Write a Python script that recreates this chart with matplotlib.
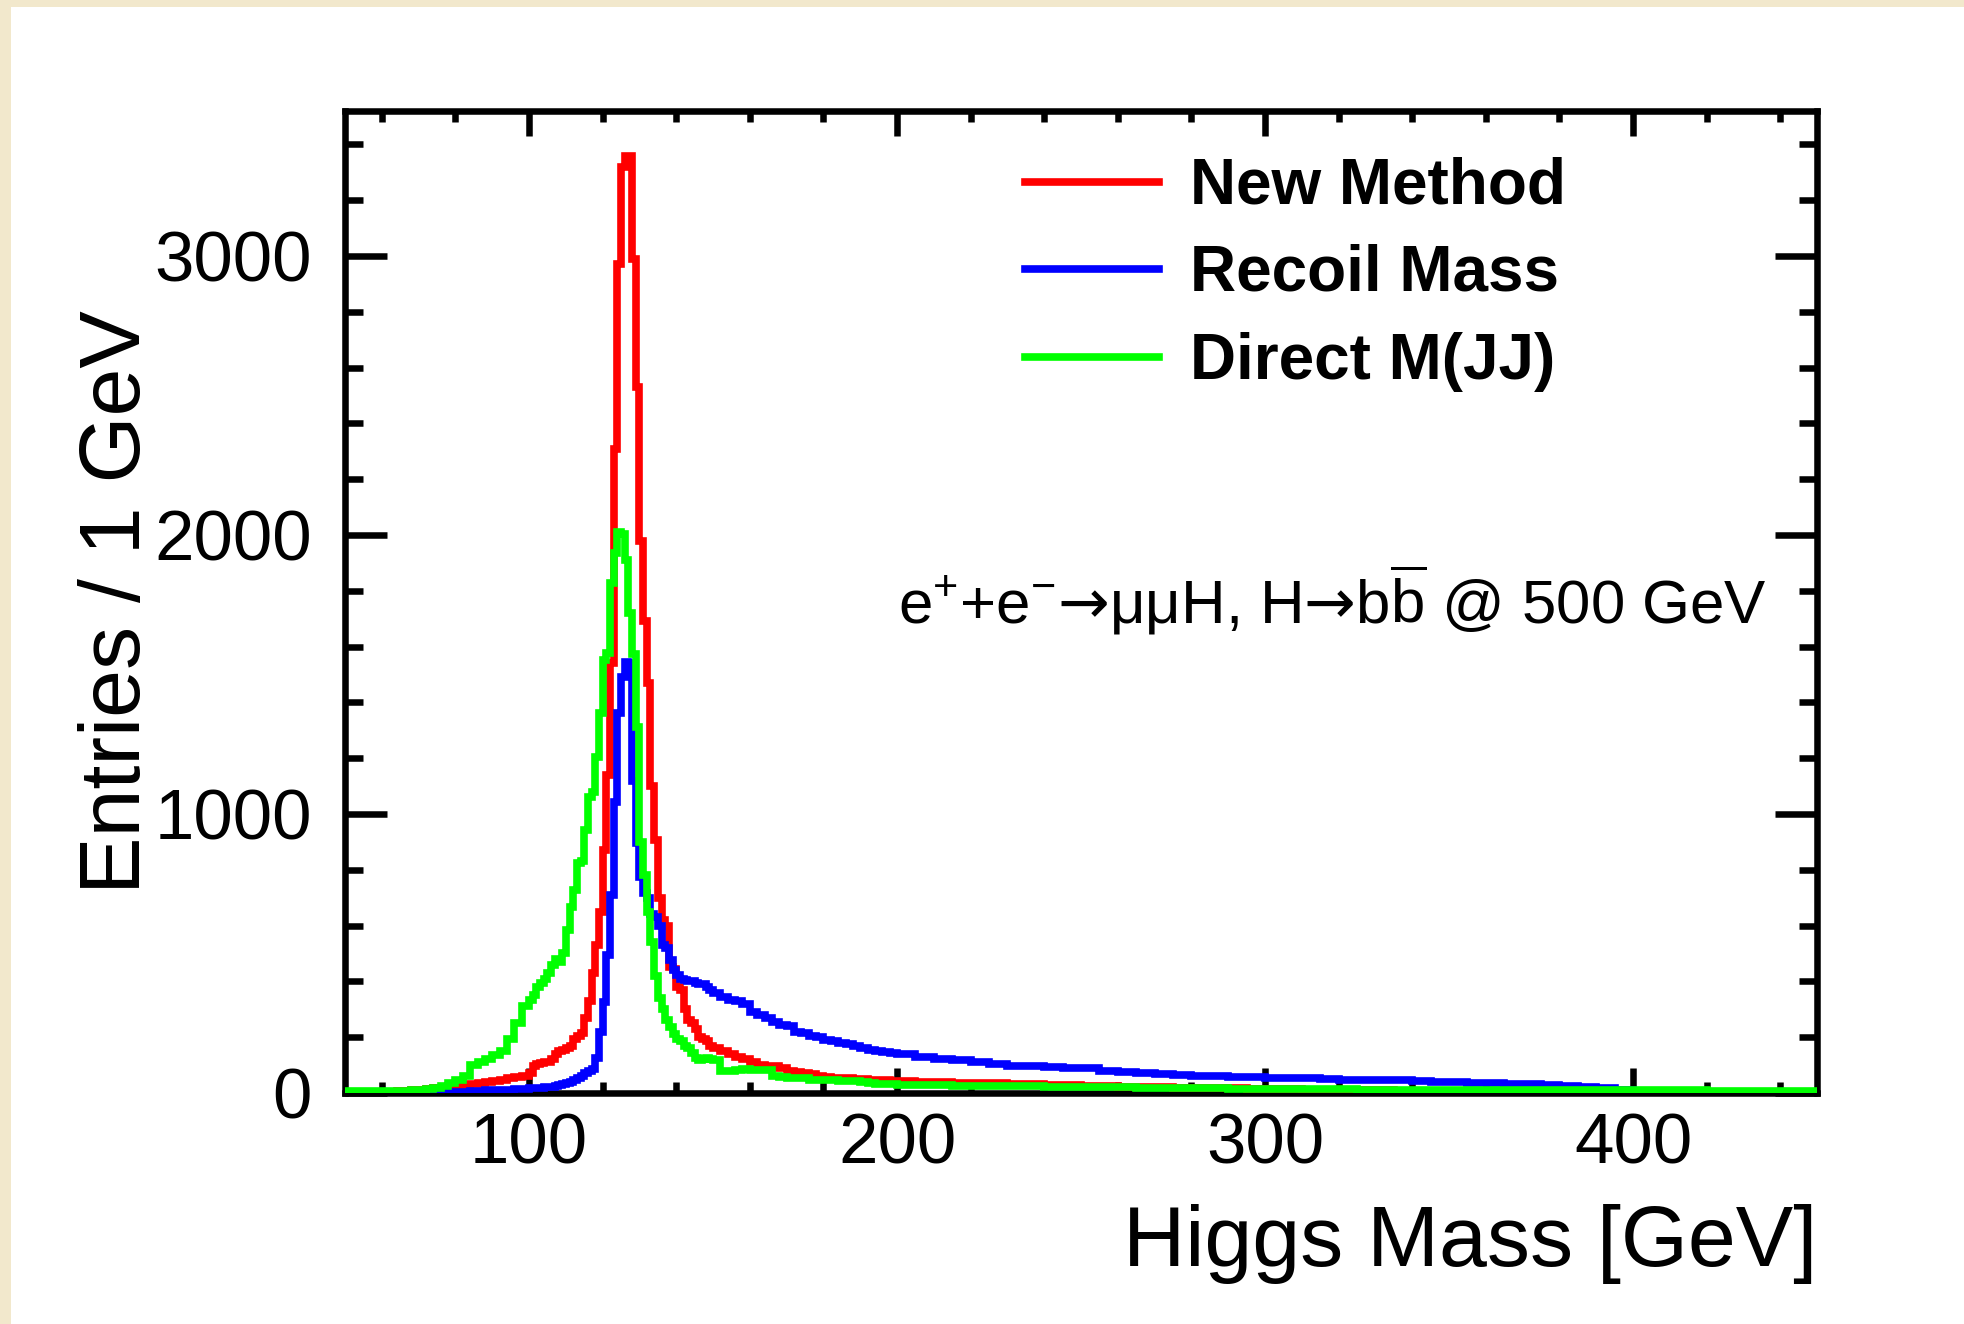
import numpy as np
import matplotlib
matplotlib.use("Agg")
import matplotlib.pyplot as plt
from matplotlib.patches import Rectangle
from matplotlib.ticker import MultipleLocator

plt.rcParams['font.family'] = ['Liberation Sans', 'DejaVu Sans']
plt.rcParams['mathtext.fontset'] = 'custom'
plt.rcParams['mathtext.rm'] = 'Liberation Sans'
plt.rcParams['mathtext.it'] = 'Liberation Sans:italic'
plt.rcParams['mathtext.bf'] = 'Liberation Sans:bold'
plt.rcParams['mathtext.sf'] = 'DejaVu Sans'

# bin edges: 2 GeV below 100, 1 GeV in the peak, 2 GeV up to 200, 5 GeV above
edges = np.concatenate([np.arange(50, 100, 2), np.arange(100, 150, 1),
                        np.arange(150, 200, 2), np.arange(200, 455, 5)])

# New Method (entries / 1 GeV)
red_lo = [0, 0, 0, 0, 0, 2, 4, 6, 8, 10, 12, 14, 16, 18, 20, 24, 28, 32, 36, 40, 44, 48, 52, 56, 62]
red_pk = [70, 95, 105, 108, 110, 112, 120, 140, 150, 155,
          160, 170, 195, 205, 215, 270, 330, 430, 530, 650,
          870, 1140, 1540, 2310, 2970, 3320, 3360, 3360, 2990, 2530,
          1980, 1690, 1470, 1100, 905, 700, 620, 600, 450, 445,
          380, 370, 300, 260, 250, 230, 200, 195, 185, 170]
red_mid = [160, 150, 140, 128, 120, 110, 102, 98, 95, 90, 80, 75, 72, 68, 60,
           57, 55, 54, 52, 50, 50, 48, 46, 45, 44]
red_hi = [42, 40, 38, 36, 35, 34, 33, 32, 30, 28, 26, 24, 22, 21, 20, 19, 18, 17, 16, 15,
          14, 13, 12, 11, 10, 10, 9, 8, 8, 7, 7, 6, 6, 5, 5, 4, 4, 4, 3, 3,
          3, 2, 2, 2, 2, 1, 1, 1, 1, 1]

# Recoil Mass
blue_lo = [0, 0, 0, 0, 0, 0, 0, 0, 0, 0, 0, 0, 1, 2, 3, 4, 5, 6, 8, 9, 10, 11, 12, 13, 15]
blue_pk = [16, 17, 18, 19, 20, 21, 22, 24, 28, 32,
           36, 40, 45, 52, 60, 70, 78, 85, 125, 220,
           326, 495, 710, 1043, 1362, 1491, 1545, 1540, 1120, 896,
           774, 717, 700, 640, 630, 600, 530, 520, 477, 440,
           423, 410, 405, 400, 400, 395, 392, 390, 380, 370]
blue_mid = [360, 345, 335, 330, 320, 290, 280, 270, 255, 245, 240, 220, 215, 205, 200,
            190, 185, 180, 175, 170, 160, 155, 150, 148, 145]
blue_hi = [140, 128, 122, 118, 112, 105, 98, 95, 92, 90, 88, 80, 74, 70, 68, 64, 62, 60, 58, 57,
           55, 54, 52, 50, 48, 47, 46, 45, 43, 41, 39, 37, 35, 33, 31, 29, 26, 23, 18, 12,
           6, 2, 0, 0, 0, 0, 0, 0, 0, 0]

# Direct M(JJ)
green_lo = [6, 6, 6, 6, 6, 6, 6, 7, 8, 9, 10, 13, 18, 25, 34, 45, 62, 100, 110, 120,
            135, 150, 195, 250, 310]
green_pk = [335, 350, 380, 395, 410, 430, 460, 480, 470, 500,
            585, 667, 727, 824, 830, 943, 1061, 1080, 1204, 1362,
            1552, 1577, 1828, 1935, 2010, 2005, 1910, 1720, 1575, 1310,
            900, 780, 650, 540, 420, 340, 300, 260, 235, 210,
            195, 185, 170, 160, 145, 125, 118, 120, 125, 122]
green_mid = [118, 80, 78, 82, 85, 84, 82, 82, 60, 57, 55, 55, 52, 48, 47,
             46, 45, 44, 43, 42, 38, 35, 33, 32, 31]
green_hi = [30, 29, 27, 26, 25, 25, 24, 24, 23, 23, 22, 21, 20, 19, 18, 18, 17, 16, 15, 15,
            15, 14, 14, 13, 13, 12, 12, 12, 11, 11, 11, 11, 10, 10, 10, 10, 10, 9, 9, 9,
            9, 9, 9, 9, 8, 8, 8, 8, 8, 8]

series = [("New Method", "#ff0000", red_lo + red_pk + red_mid + red_hi),
          ("Recoil Mass", "#0000ff", blue_lo + blue_pk + blue_mid + blue_hi),
          ("Direct M(JJ)", "#00ff00", green_lo + green_pk + green_mid + green_hi)]

LW = 5.5

fig = plt.figure(figsize=(19.65, 13.24), dpi=100)
fig.patch.set_facecolor('#f2e8cc')
fig.patches.append(Rectangle((11 / 1965, 0), 1, 1 - 7 / 1324, transform=fig.transFigure,
                             facecolor='white', edgecolor='none', zorder=-10))

ax = fig.add_axes([0.1756, 0.1745, 0.7491, 0.7417])
ax.set_zorder(1)
ax.set_facecolor('white')

for name, color, vals in series:
    ax.stairs(vals, edges, color=color, linewidth=LW, zorder=3)

ax.set_xlim(50, 450)
ax.set_ylim(0, 3520)

ax.xaxis.set_major_locator(MultipleLocator(100))
ax.xaxis.set_minor_locator(MultipleLocator(20))
ax.yaxis.set_major_locator(MultipleLocator(1000))
ax.yaxis.set_minor_locator(MultipleLocator(200))

for s in ax.spines.values():
    s.set_linewidth(4.7)
    s.set_zorder(2.5)

ax.tick_params(axis='both', which='both', direction='in', top=True, right=True,
               width=4.7, labelsize=51)
ax.tick_params(axis='x', which='major', length=18, pad=14)
ax.tick_params(axis='x', which='minor', length=8)
ax.tick_params(axis='y', which='major', length=30, pad=24)
ax.tick_params(axis='y', which='minor', length=13)

fig.text(0.9247, 0.0438, "Higgs Mass [GeV]", fontsize=62, ha='right', va='baseline')
fig.text(0.0712, 0.545, "Entries / 1 GeV", fontsize=62, rotation=90,
         rotation_mode='anchor', ha='center', va='baseline')

# legend
for i, (name, color, vals) in enumerate(series):
    y = 0.928 - i * 0.0893
    ax.plot([0.462, 0.553], [y, y], color=color, linewidth=LW,
            transform=ax.transAxes, clip_on=False)
    ax.text(0.574, 0.906 - i * 0.0893, name, fontsize=46, fontweight='bold',
            transform=ax.transAxes, ha='left', va='baseline')

ax.text(0.966, 0.4776,
        r"e$^{+}$+e$^{-}\mathsf{→}$μμH, H$\mathsf{→}$b$\overline{\mathrm{b}}$ @ 500 GeV",
        fontsize=44.5, transform=ax.transAxes, ha='right', va='baseline')

fig.savefig("out.png", dpi=100, facecolor=fig.get_facecolor())
